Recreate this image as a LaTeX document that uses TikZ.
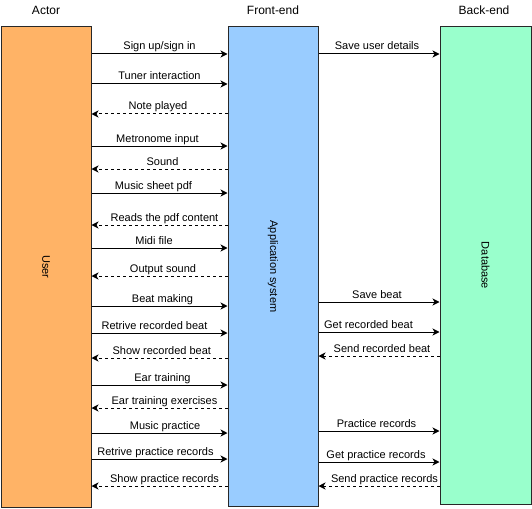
\documentclass[tikz,border=0pt]{standalone}
\usepackage{fontspec}
\setmainfont{Liberation Sans}
\usetikzlibrary{arrows.meta}
\definecolor{actorfill}{RGB}{255,179,102}
\definecolor{frontfill}{RGB}{153,204,255}
\definecolor{backfill}{RGB}{153,255,204}
\definecolor{edge}{RGB}{40,40,40}
\tikzset{
  lane/.style={draw=edge, line width=1pt, inner sep=0pt},
  lanetext/.style={rotate=-90, font=\fontsize{11}{13}\selectfont},
  title/.style={anchor=base, inner sep=0pt, font=\fontsize{12}{14}\selectfont},
  msg/.style={draw=black, line width=1pt, -{Stealth[length=7pt,width=7pt,inset=2pt]}},
  reply/.style={msg, dash pattern=on 3pt off 3pt},
  lbl/.style={anchor=base, inner sep=0pt, font=\fontsize{11}{13}\selectfont, yshift=4pt},
}
\begin{document}
\begin{tikzpicture}[x=1pt,y=-1pt]
\useasboundingbox (0,0) rectangle (532,508);
% lanes
\node[lane, fill=actorfill, minimum width=90pt, minimum height=480pt] (user) at (46,267) {};
\node[lane, fill=frontfill, minimum width=90pt, minimum height=479pt] (app) at (273,266.5) {};
\node[lane, fill=backfill, minimum width=91pt, minimum height=477pt] (db) at (485.5,265.5) {};
\node[lanetext] (usertxt) at (user.center) {User};
\node[lanetext] (apptxt) at (app.center) {Application system};
\node[lanetext] (dbtxt) at (db.center) {Database};
% titles
\node[title] (t1) at (46,14.5) {Actor};
\node[title] (t2) at (273,14.5) {Front-end};
\node[title] (t3) at (484,14.5) {Back-end};
% user -> app
\foreach \y/\t/\dx in {54/{Sign up/sign in}/0, 84/{Tuner interaction}/0, 146/{Metronome input}/-2,
  193/{Music sheet pdf}/-6, 248/{Midi file}/-5.5, 306/{Beat making}/3, 333/{Retrive recorded beat}/-5,
  385/{Ear training}/3, 433/{Music practice}/5.5, 459/{Retrive practice records}/-4}
  \draw[msg] (user.east |- 0,\y) -- node[lbl, xshift=\dx pt] {\t} (app.west |- 0,\y);
% app -> user (dashed)
\foreach \y/\t/\dx in {114/{Note played}/-1.5, 169/{Sound}/3, 225/{Reads the pdf content}/5,
  276/{Output sound}/3.5, 358/{Show recorded beat}/2.3, 408/{Ear training exercises}/5,
  486/{Show practice records}/5}
  \draw[reply] (app.west |- 0,\y) -- node[lbl, xshift=\dx pt] {\t} (user.east |- 0,\y);
% app -> db
\foreach \y/\t/\dx in {54/{Save user details}/-2, 302/{Save beat}/-2, 332/{Get recorded beat}/-10.5,
  431/{Practice records}/-2.5, 462/{Get practice records}/-3}
  \draw[msg] (app.east |- 0,\y) -- node[lbl, xshift=\dx pt] {\t} (db.west |- 0,\y);
% db -> app (dashed)
\foreach \y/\t/\dx in {356/{Send recorded beat}/3, 486/{Send practice records}/5.5}
  \draw[reply] (db.west |- 0,\y) -- node[lbl, xshift=\dx pt] {\t} (app.east |- 0,\y);
\end{tikzpicture}
\end{document}
